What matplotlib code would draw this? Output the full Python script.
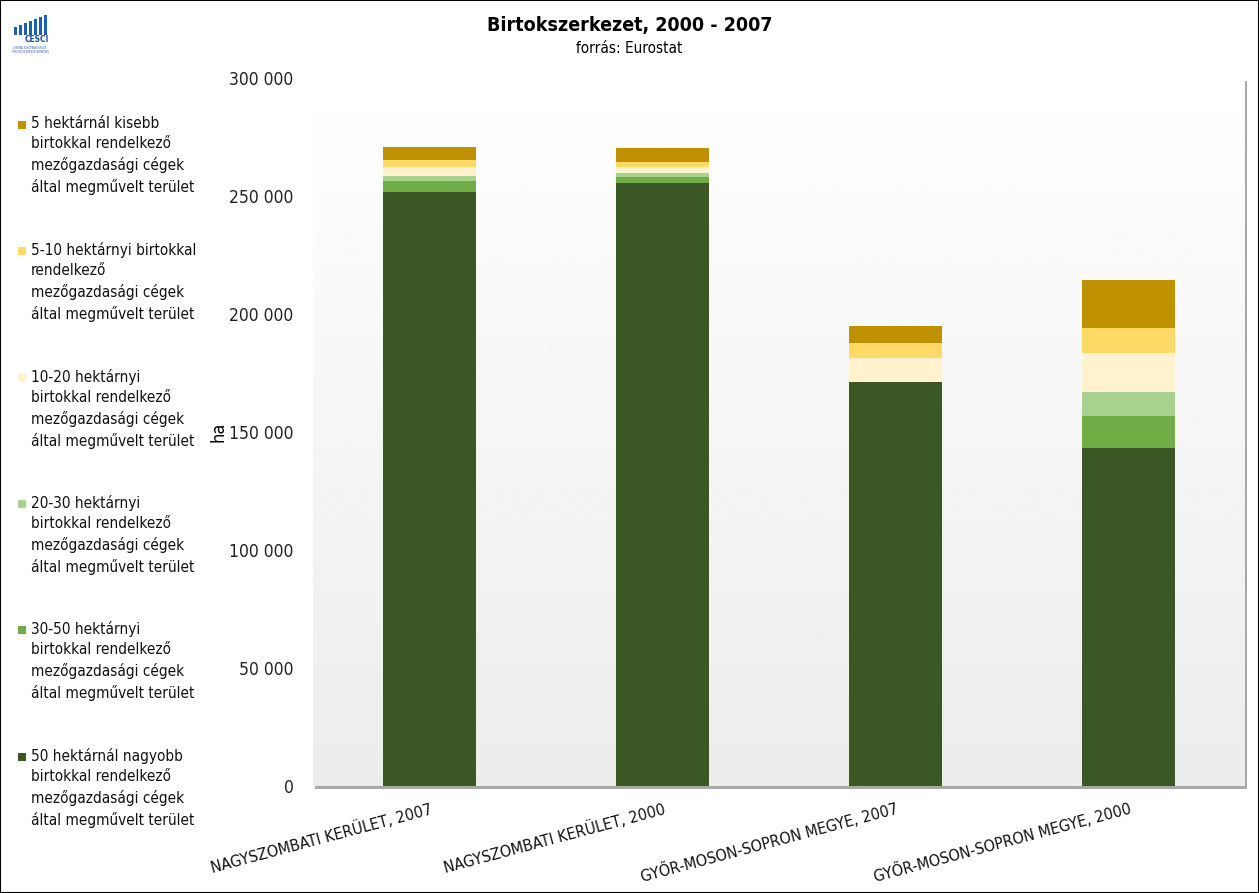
import matplotlib.pyplot as plt
import numpy as np
from matplotlib.patches import Rectangle

plt.rcParams['font.family'] = ['DejaVu Sans']
plt.rcParams['font.stretch'] = 'condensed'

# Kategóriák
categories = ['NAGYSZOMBATI KERÜLET, 2007', 'NAGYSZOMBATI KERÜLET, 2000',
              'GYŐR-MOSON-SOPRON MEGYE, 2007', 'GYŐR-MOSON-SOPRON MEGYE, 2000']

# Sorozatok (alulról felfelé), ha
over_50 = [251700, 255400, 171100, 143100]
ha_30_50 = [4500, 2700, 0, 13800]
ha_20_30 = [2200, 1800, 0, 10200]
ha_10_20 = [3900, 2500, 10400, 16500]
ha_5_10 = [2800, 1900, 6400, 10300]
under_5 = [5800, 6100, 7100, 20500]

series = [over_50, ha_30_50, ha_20_30, ha_10_20, ha_5_10, under_5]
labels = [
    '50 hektárnál nagyobb\nbirtokkal rendelkező\nmezőgazdasági cégek\náltal megművelt terület',
    '30-50 hektárnyi\nbirtokkal rendelkező\nmezőgazdasági cégek\náltal megművelt terület',
    '20-30 hektárnyi\nbirtokkal rendelkező\nmezőgazdasági cégek\náltal megművelt terület',
    '10-20 hektárnyi\nbirtokkal rendelkező\nmezőgazdasági cégek\náltal megművelt terület',
    '5-10 hektárnyi birtokkal\nrendelkező\nmezőgazdasági cégek\náltal megművelt terület',
    '5 hektárnál kisebb\nbirtokkal rendelkező\nmezőgazdasági cégek\náltal megművelt terület',
]
colors = ['#3A5724', '#70AD47', '#A9D18E', '#FFF2CC', '#FFD966', '#BF9000']

fig = plt.figure(figsize=(12.59, 8.93), dpi=100)
ax = fig.add_axes([0.2486, 0.1198, 0.740, 0.7929])

# Háttér színátmenet
grad = np.linspace(1.0, 0.925, 256).reshape(-1, 1)
ax.imshow(grad, extent=[0, 1, 0, 1], transform=ax.transAxes, cmap='gray',
          vmin=0, vmax=1, aspect='auto', interpolation='bilinear', zorder=0)

# Árnyék
fig.patches.append(Rectangle((0.2486 + 2.5 / 1259, 0.1198 - 3 / 893), 0.740, 0.7929,
                             transform=fig.transFigure, facecolor='#a8a8a8',
                             edgecolor='none', zorder=-1))

x = np.arange(len(categories))
bottom = np.zeros(len(categories))
for vals, col in zip(series, colors):
    ax.bar(x, vals, 0.4, bottom=bottom, color=col, zorder=2)
    bottom += np.array(vals)

ax.set_xlim(-0.5, 3.5)
ax.set_ylim(0, 300000)
ax.set_yticks(np.arange(0, 300001, 50000))
ax.set_yticklabels(['0', '50 000', '100 000', '150 000', '200 000', '250 000', '300 000'],
                   fontsize=12.5, color='#222222')
ax.set_xticks(x)
ax.set_xticklabels(categories, rotation=15, ha='right', rotation_mode='anchor',
                   fontsize=11.5, color='#111111')
ax.tick_params(length=0)
ax.tick_params(axis='y', pad=14)
ax.tick_params(axis='x', pad=10)
for s in ax.spines.values():
    s.set_visible(False)
ax.set_ylabel('ha', fontsize=13)
ax.yaxis.set_label_coords(-0.092, 0.5)

# Cím
fig.text(0.5, 0.971, 'Birtokszerkezet, 2000 - 2007', ha='center', va='center',
         fontsize=14, fontweight='bold')
fig.text(0.5, 0.946, 'forrás: Eurostat', ha='center', va='center', fontsize=11)

# Jelmagyarázat
leg_y = [757, 630, 504, 378, 251, 125]
for lab, col, yy in zip(labels, colors, leg_y):
    fy = 1 - yy / 893
    fig.patches.append(Rectangle((18 / 1259, fy - 4 / 893), 8 / 1259, 8 / 893,
                                 transform=fig.transFigure, facecolor=col,
                                 edgecolor='none'))
    fig.text(31 / 1259, fy + 9 / 893, lab, ha='left', va='top', fontsize=11,
             linespacing=1.45, color='#111111')

# Logó
for i in range(7):
    fig.patches.append(Rectangle(((14 + i * 5) / 1259, 1 - 35 / 893), 2.5 / 1259,
                                 (8 + i * 2) / 893, transform=fig.transFigure,
                                 facecolor='#1a5fb4', edgecolor='none'))
fig.text(37 / 1259, 1 - 40 / 893, 'CESCI', ha='center', va='center', fontsize=6,
         fontweight='bold', color='#1a4fa0')
fig.text(30 / 1259, 1 - 50 / 893, 'CENTRAL EUROPEAN SERVICE\nFOR CROSS-BORDER INITIATIVES',
         ha='center', va='center', fontsize=1.8, color='#1a4fa0')

# Keret
fig.patches.append(Rectangle((0, 0), 1, 1, transform=fig.transFigure, fill=False,
                             edgecolor='black', linewidth=1.5))

fig.savefig('out.png', dpi=100)
